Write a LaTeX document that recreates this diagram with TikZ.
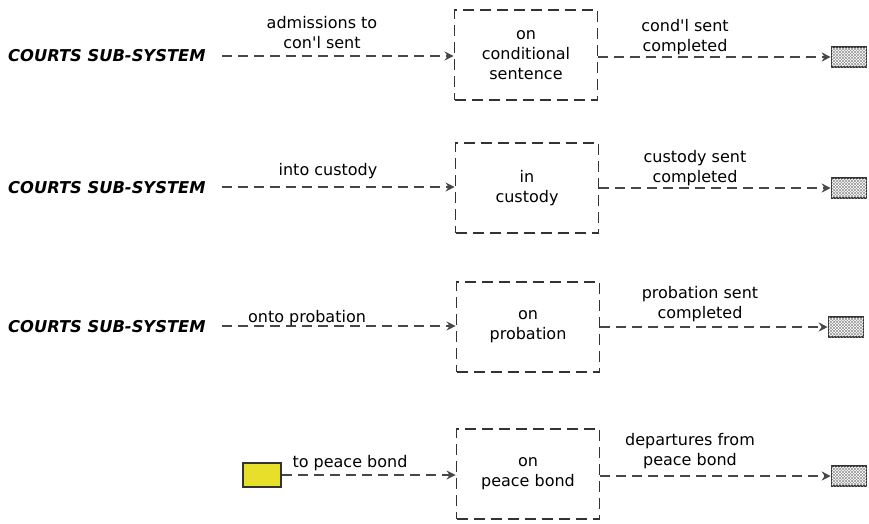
\documentclass[tikz,border=0pt]{standalone}
\usepackage{fontspec}
\newfontfamily\dv{DejaVu Sans}
\usetikzlibrary{arrows.meta,patterns}
\definecolor{srcyellow}{HTML}{E8DF2A}
\tikzset{
  x=1pt,y=-1pt,
  every node/.style={font=\dv},
  stock/.style={draw=black!80,line width=1.8pt,dash pattern=on 11pt off 6pt,minimum width=143pt,minimum height=90pt,align=center,font=\dv\fontsize{16}{20}\selectfont},
  flow/.style={draw=black!72,line width=1.8pt,dash pattern=on 10pt off 6pt,-{Stealth[length=9pt,width=9pt]}},
  sink/.style={draw=black!80,line width=1.6pt,fill=black!8,pattern=north east lines,pattern color=black!40,minimum width=35pt,minimum height=20pt,inner sep=0pt,
    postaction={pattern=north west lines,pattern color=black!40}},
  srcbox/.style={draw=black!80,line width=1.6pt,fill=srcyellow,minimum width=38pt,minimum height=24pt,inner sep=0pt},
  lab/.style={align=center,font=\dv\fontsize{16}{20}\selectfont,inner sep=0pt},
  courts/.style={font=\dv\fontsize{16.3}{18}\selectfont\bfseries\itshape,anchor=west,inner sep=0pt}
}
\begin{document}
\begin{tikzpicture}
\useasboundingbox (0,0) rectangle (869,523);
% row 1
\node[courts] (c1) at (8,56) {COURTS SUB-SYSTEM};
\node[stock] (s1) at (526,55) {on\\conditional\\sentence};
\node[sink] (k1) at (849,57) {};
\coordinate (a1) at (222,56);
\draw[flow] (a1) -- (a1 -| s1.west);
\draw[flow] (s1.east |- k1) -- (k1.west);
\node[lab] (l1) at (322,33) {admissions to\\con'l sent};
\node[lab] (m1) at (685,37) {cond'l sent\\completed};
% row 2
\node[courts] (c2) at (8,188) {COURTS SUB-SYSTEM};
\node[stock] (s2) at (527,188) {in\\custody};
\node[sink] (k2) at (849,188) {};
\coordinate (a2) at (222,187);
\draw[flow] (a2) -- (a2 -| s2.west);
\draw[flow] (s2.east |- k2) -- (k2.west);
\node[lab] (l2) at (328,171) {into custody};
\node[lab] (m2) at (695,168) {custody sent\\completed};
% row 3
\node[courts] (c3) at (8,327) {COURTS SUB-SYSTEM};
\node[stock] (s3) at (528,327) {on\\probation};
\node[sink] (k3) at (846,327) {};
\coordinate (a3) at (222,326);
\draw[flow] (a3) -- (a3 -| s3.west);
\draw[flow] (s3.east |- k3) -- (k3.west);
\node[lab] (l3) at (307,318) {onto probation};
\node[lab] (m3) at (700,304) {probation sent\\completed};
% row 4
\node[srcbox] (y4) at (262,475) {};
\node[stock] (s4) at (528,474) {on\\peace bond};
\node[sink] (k4) at (849,476) {};
\draw[flow] (y4.east) -- (y4.east -| s4.west);
\draw[flow] (s4.east |- k4) -- (k4.west);
\node[lab] (l4) at (350,463) {to peace bond};
\node[lab] (m4) at (690,451) {departures from\\peace bond};
\end{tikzpicture}
\end{document}
